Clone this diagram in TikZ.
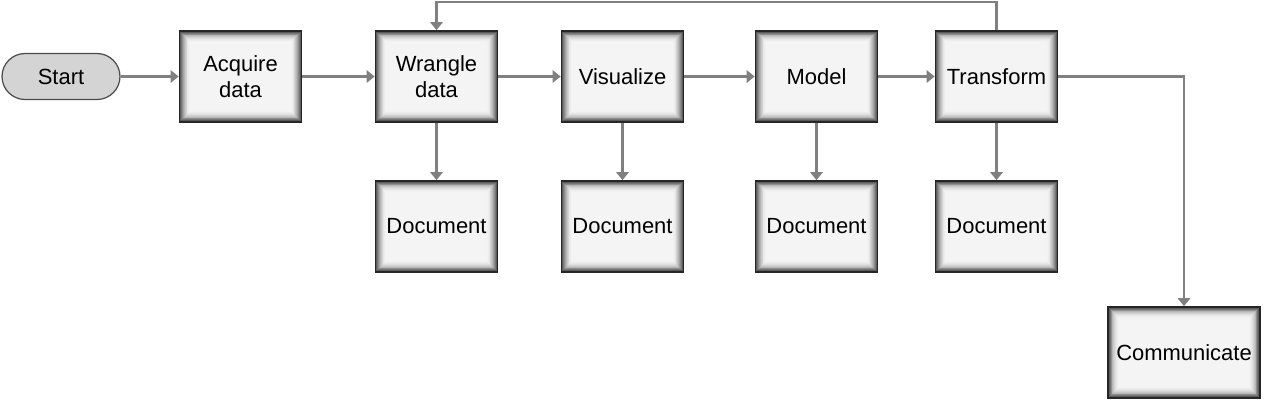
\documentclass[tikz,border=0pt]{standalone}
\usepackage{fontspec}
\setmainfont{Liberation Sans}
\usetikzlibrary{arrows.meta}
\tikzset{
	stepbox/.style = {draw=black!85, line width=1pt, minimum width=2.44cm, minimum height=1.82cm,
		align=center, font=\fontsize{12.5}{15}\selectfont,
		path picture={
			\foreach \i in {0,...,12} {
				\pgfmathsetmacro{\lvl}{4+72*(1-\i/13)^2.2}
				\fill[black!\lvl] ([shift={(\i*0.5pt,-\i*0.5pt)}]path picture bounding box.north west)
					rectangle ([shift={(-\i*0.5pt,\i*0.5pt)}]path picture bounding box.south east);
			}
		}
	},
	startbox/.style = {draw=black!70, line width=0.7pt, fill=black!17, rounded corners=0.46cm,
		minimum width=2.36cm, minimum height=0.92cm, font=\fontsize{12.5}{15}\selectfont},
	flow/.style = {draw=black!50, line width=1.4pt, -{Triangle[length=4.5pt,width=7pt]}}
}

\begin{document}
\begin{tikzpicture}[x=0.02cm, y=-0.02cm]
	\useasboundingbox (0,0) rectangle (1265,400);
	% ====== Main row ========
	\node[startbox] (S) at (61,76.5) {Start};
	\node[stepbox] (A) at (240.5,76.5) {Acquire\\data};
	\node[stepbox] (W) at (436.5,76.5) {Wrangle\\data};
	\node[stepbox] (V) at (622.5,76.5) {Visualize};
	\node[stepbox] (M) at (816.5,76.5) {Model};
	\node[stepbox] (T) at (996.5,76.5) {Transform};
	% ====== Documents ========
	\foreach \n in {W,V,M,T} {
		\node[stepbox] (D\n) at (\n |- 0,226.5) {Document};
		\draw[flow] (\n.south) -- (D\n.north);
	}
	\node[stepbox, minimum width=3.04cm] (C) at (1184,352.5) {Communicate};
	% ====== Connectors ========
	\draw[flow] (S.east) -- (A.west);
	\draw[flow] (A.east) -- (W.west);
	\draw[flow] (W.east) -- (V.west);
	\draw[flow] (V.east) -- (M.west);
	\draw[flow] (M.east) -- (T.west);
	\coordinate (top) at (0,2);
	\draw[flow] (T.north) -- (T.north |- top) -| (W.north);
	\draw[flow] (T.east) -| (C.north);
\end{tikzpicture}
\end{document}
